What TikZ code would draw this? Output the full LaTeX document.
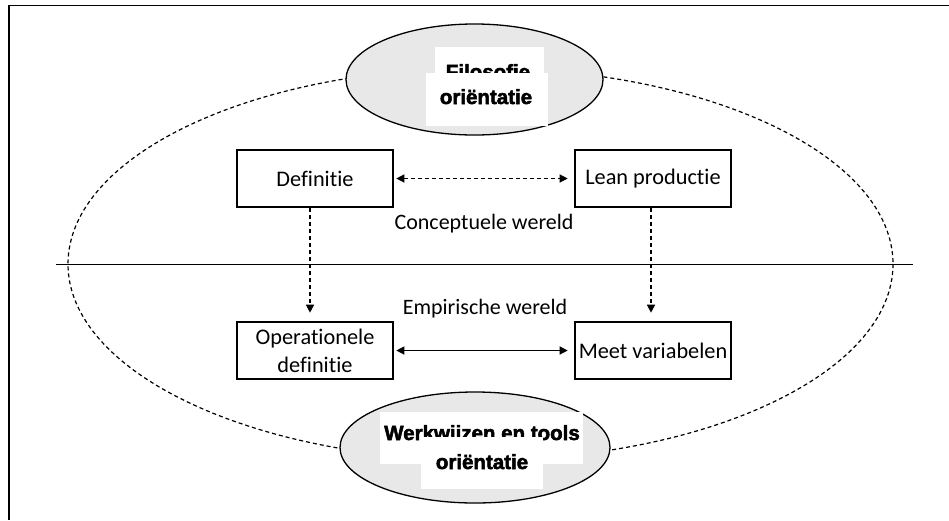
\documentclass[tikz,border=0pt]{standalone}
\usepackage{fontspec}
\setmainfont[Ligatures=NoCommon]{Carlito}
\newfontfamily\headfont[BoldFeatures={FakeBold=2.5}]{Liberation Sans}
\usetikzlibrary{arrows.meta}
\begin{document}
\begin{tikzpicture}[x=1pt,y=-1pt,
  concept/.style={draw,line width=2.6pt,fill=white,minimum width=156pt,minimum height=57pt,
    inner sep=0pt,font=\fontsize{22.3}{28}\selectfont,align=center},
  world/.style={font=\fontsize{22}{28}\selectfont,anchor=base},
  hub/.style={draw,line width=1.3pt,fill=black!9},
  tagtext/.style={font=\headfont\bfseries\fontsize{20.5}{22}\selectfont,anchor=base,inner sep=0pt},
  link/.style={line width=1.3pt,-{Triangle[length=8pt,width=8pt]}},
  twoway/.style={line width=1.3pt,{Triangle[length=8pt,width=8pt]}-{Triangle[length=8pt,width=8pt]}},
  dashline/.style={dashed,dash pattern=on 4pt off 3pt}
]
\useasboundingbox (0,0) rectangle (949,520);

% page frame (top and left rules)
\draw[line width=1.8pt] (949,5.5) -- (9,5.5) -- (9,520);

% dashed outer ellipse and the dividing line
\draw[dashline,line width=1.2pt] (480.5,264) ellipse [x radius=412.5, y radius=196];
\draw[line width=1.8pt] (56,264.5) coordinate (hl) -- (913,264.5) coordinate (hr);

% upper hub: philosophy orientation
\draw[hub] (474.5,79.5) ellipse [x radius=128.5, y radius=55.5];
\fill[white] (435,47) rectangle (544,100);
\node[tagtext] (filo) at (488,79) {Filosofie};
\fill[white] (426,73) rectangle (548,126);
\node[tagtext] (orient1) at (486,104) {oriëntatie};

% lower hub: methods and tools orientation
\draw[hub] (475,447.5) ellipse [x radius=135, y radius=55.5];
\fill[white] (380,412) rectangle (583,464);
\node[tagtext] (tools) at (482,440) {Werkwijzen en tools};
\fill[white] (421,437) rectangle (543,489);
\node[tagtext] (orient2) at (482,469) {oriëntatie};

% concept boxes
\node[concept] (def)  at (315,178.5) {Definitie};
\node[concept] (lean) at (653,178.5) {Lean productie};
\node[concept] (op)   at (315,350.5) {Operationele\\definitie};
\node[concept] (meet) at (653,350.5) {Meet variabelen};

% world labels
\node[world] (concw) at (484,229) {Conceptuele wereld};
\node[world] (empw)  at (485,314) {Empirische wereld};

% connectors
\draw[twoway,dashline,shorten <=2pt,shorten >=6pt] (def.east) -- (lean.west);
\draw[twoway,shorten <=2pt,shorten >=6pt] (op.east) -- (meet.west);
\draw[link,dashline,shorten >=8pt] ([xshift=-5pt]def.south) -- ([xshift=-5pt]op.north);
\draw[link,dashline,shorten >=8pt] ([xshift=-2pt]lean.south) -- ([xshift=-2pt]meet.north);
\end{tikzpicture}
\end{document}
